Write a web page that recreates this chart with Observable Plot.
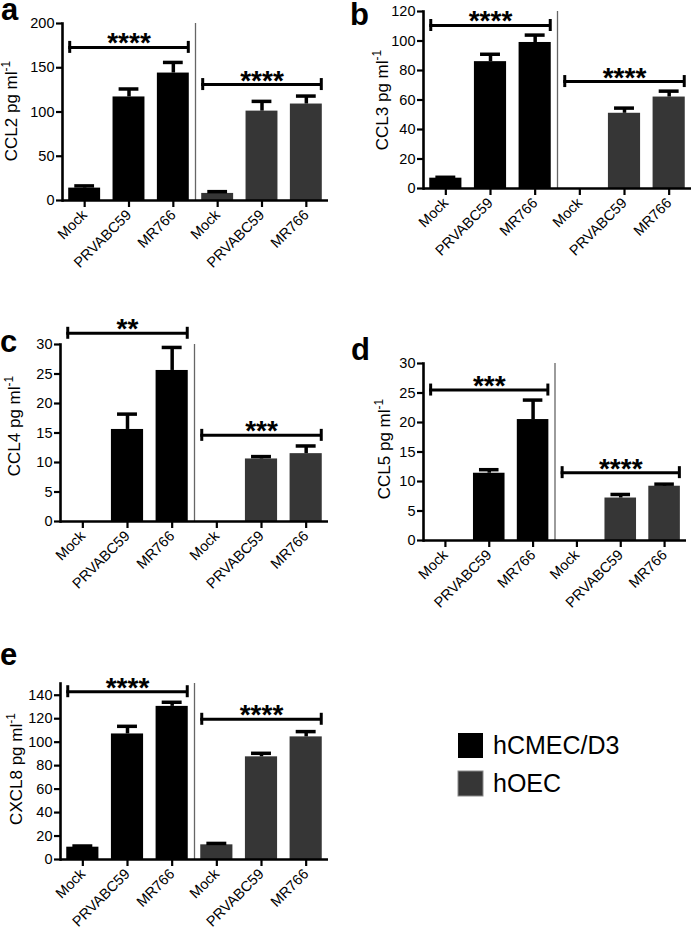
<!DOCTYPE html>
<html><head><meta charset="utf-8">
<script src="https://cdn.jsdelivr.net/npm/d3@7"></script>
<script src="https://cdn.jsdelivr.net/npm/@observablehq/plot@0.6"></script>
<style>
body{margin:0;background:#fff;}
#root{position:relative;width:692px;height:930px;overflow:hidden;font-family:"Liberation Sans",Arial,sans-serif;background:#fff;}
.panel{position:absolute;}
#overlay{position:absolute;left:0;top:0;pointer-events:none;}
#root svg g[aria-label="y-axis tick label"], #root svg g[aria-label="y-axis tick label"] text{font-size:14.5px !important;font-family:"Liberation Sans",Arial,sans-serif;}
#root svg g[aria-label="x-axis tick label"], #root svg g[aria-label="x-axis tick label"] text{font-size:14.5px !important;font-family:"Liberation Sans",Arial,sans-serif;}
</style></head><body><div id="root"></div>
<script>
// ---- data ----
const conditions = ["Mock", "PRVABC59", "MR766"];
const cellTypes = ["hCMEC/D3", "hOEC"];
const cellColors = ["#000000", "#363636"];

const ccl2Mean = [14, 117, 144, 8, 101, 109];
const ccl2Err  = [2.5, 9, 12, 2, 11, 9];
const ccl2Sig  = [173, 131];
const ccl2Stars = ["****", "****"];
const ccl2Ticks = [0, 50, 100, 150, 200];

const ccl3Mean = [7, 86, 99, 0, 51, 62];
const ccl3Err  = [0.6, 5, 5, 0, 3.5, 4];
const ccl3Sig  = [110.5, 72.5];
const ccl3Stars = ["****", "****"];
const ccl3Ticks = [0, 20, 40, 60, 80, 100, 120];

const ccl4Mean = [0, 15.6, 25.6, 0, 10.6, 11.5];
const ccl4Err  = [0, 2.6, 3.9, 0, 0.4, 1.3];
const ccl4Sig  = [31.9, 14.6];
const ccl4Stars = ["**", "***"];
const ccl4Ticks = [0, 5, 10, 15, 20, 25, 30];

const ccl5Mean = [0, 11.4, 20.5, 0, 7.2, 9.2];
const ccl5Err  = [0, 0.6, 3.3, 0, 0.6, 0.35];
const ccl5Sig  = [25.5, 11.5];
const ccl5Stars = ["***", "****"];
const ccl5Ticks = [0, 5, 10, 15, 20, 25, 30];

const cxcl8Mean = [10.5, 107, 130.5, 12.5, 87.5, 104.5];
const cxcl8Err  = [1, 6.5, 3.5, 1.2, 3, 4.5];
const cxcl8Sig  = [143, 119.5];
const cxcl8Stars = ["****", "****"];
const cxcl8Ticks = [0, 20, 40, 60, 80, 100, 120, 140];

const FONT = "'Liberation Sans', Arial, Helvetica, sans-serif";
const root = document.getElementById("root");

function panel(cfg) {
  const keys = [];
  cellTypes.forEach(ct => conditions.forEach(c => keys.push(ct + "|" + c)));
  const data = keys.map((k, i) => ({key: k, cell: k.split("|")[0], mean: cfg.mean[i], err: cfg.err[i]}));
  const errData = data.filter(d => d.err > 0);
  const plotW = cfg.width - cfg.mL - cfg.mR;
  const plotH = cfg.height - cfg.mT - cfg.mB;
  const step = plotW / 6;
  const bw = step * 0.72;
  const pxPerUnit = plotH / cfg.ymax;
  const capHalf = 6 / pxPerUnit;
  const sig = [
    {x1: keys[0], x2: keys[2], mid: keys[1], y: cfg.sig[0], label: cfg.stars[0]},
    {x1: keys[3], x2: keys[5], mid: keys[4], y: cfg.sig[1], label: cfg.stars[1]}
  ];
  const plot = Plot.plot({
    width: cfg.width, height: cfg.height,
    marginLeft: cfg.mL, marginRight: cfg.mR, marginTop: cfg.mT, marginBottom: cfg.mB,
    style: {fontFamily: FONT, fontSize: "14px", color: "#000", background: "transparent", overflow: "visible"},
    x: {domain: keys, paddingInner: 0.28, paddingOuter: 0.14, round: false, label: null},
    y: {domain: [0, cfg.ymax], label: null},
    color: {domain: cellTypes, range: cellColors},
    marks: [
      Plot.ruleX([keys[2]], {dx: step / 2, stroke: "#666", strokeWidth: 1.3}),
      Plot.barY(data, {x: "key", y: "mean", fill: "cell"}),
      Plot.ruleX(errData, {x: "key", y1: "mean", y2: d => d.mean + d.err, stroke: "#000", strokeWidth: 3.5}),
      Plot.tickY(errData, {x: "key", y: d => d.mean + d.err, stroke: "#000", strokeWidth: 3.5, insetLeft: bw * 0.19, insetRight: bw * 0.19}),
      Plot.ruleY(sig, {x1: "x1", x2: "x2", y: "y", stroke: "#000", strokeWidth: 3}),
      Plot.ruleX(sig, {x: "x1", y1: d => d.y - capHalf, y2: d => d.y + capHalf, dx: -bw / 2 + 1, stroke: "#000", strokeWidth: 3}),
      Plot.ruleX(sig, {x: "x2", y1: d => d.y - capHalf, y2: d => d.y + capHalf, dx: bw / 2 - 1, stroke: "#000", strokeWidth: 3}),
      Plot.text(sig, {x: "mid", y: "y", text: "label", dy: -4, fontSize: 28, fontWeight: "bold", fill: "#000"}),
      Plot.axisY({ticks: cfg.ticks, tickSize: 6, tickPadding: 2, fontSize: 14.5, strokeWidth: 2.2, tickFormat: d => String(d)}),
      Plot.axisX({tickFormat: d => d.split("|")[1], tickRotate: -45, tickSize: 7, tickPadding: 5, fontSize: 14.5, strokeWidth: 2.2}),
      Plot.frame({anchor: "left", stroke: "#000", strokeWidth: 2.6}),
      Plot.ruleY([0], {stroke: "#000", strokeWidth: 2.6})
    ]
  });
  const svg = d3.select(plot);
  const t = svg.append("text")
    .attr("transform", `translate(${cfg.labelX},${cfg.labelY}) rotate(-90)`)
    .attr("text-anchor", "middle")
    .attr("font-family", FONT)
    .attr("font-size", 17)
    .attr("fill", "#000");
  t.append("tspan").text(cfg.ylabel + " pg ml");
  t.append("tspan").attr("font-size", 12).attr("dy", -7).text("-1");
  plot.classList.add("panel");
  plot.style.left = cfg.left + "px";
  plot.style.top = cfg.top + "px";
  root.appendChild(plot);
}

panel({ylabel: "CCL2", mean: ccl2Mean, err: ccl2Err, sig: ccl2Sig, stars: ccl2Stars, ticks: ccl2Ticks, ymax: 200,
  left: 0, top: 0, width: 340, height: 300, mL: 62, mR: 12, mT: 23, mB: 100, labelX: 17, labelY: 111});
panel({ylabel: "CCL3", mean: ccl3Mean, err: ccl3Err, sig: ccl3Sig, stars: ccl3Stars, ticks: ccl3Ticks, ymax: 120,
  left: 346, top: 0, width: 346, height: 290, mL: 77, mR: 1, mT: 11, mB: 102, labelX: 42, labelY: 100});
panel({ylabel: "CCL4", mean: ccl4Mean, err: ccl4Err, sig: ccl4Sig, stars: ccl4Stars, ticks: ccl4Ticks, ymax: 30,
  left: 0, top: 300, width: 340, height: 320, mL: 60, mR: 12, mT: 44, mB: 99, labelX: 19.5, labelY: 126});
panel({ylabel: "CCL5", mean: ccl5Mean, err: ccl5Err, sig: ccl5Sig, stars: ccl5Stars, ticks: ccl5Ticks, ymax: 30,
  left: 346, top: 300, width: 346, height: 340, mL: 77, mR: 6, mT: 63, mB: 100, labelX: 44, labelY: 149});
panel({ylabel: "CXCL8", mean: cxcl8Mean, err: cxcl8Err, sig: cxcl8Sig, stars: cxcl8Stars, ticks: cxcl8Ticks, ymax: 150,
  left: 0, top: 610, width: 340, height: 320, mL: 60, mR: 12, mT: 73, mB: 71, labelX: 21.5, labelY: 159});

// overlay: panel letters and legend
const letters = [
  {t: "a", x: 1, y: 20}, {t: "b", x: 350, y: 25}, {t: "c", x: 0, y: 352},
  {t: "d", x: 351, y: 360}, {t: "e", x: 0, y: 665}
];
const ov = d3.select(root).append("svg").attr("id", "overlay").attr("width", 692).attr("height", 930);
ov.selectAll("text.letter").data(letters).join("text").attr("class", "letter")
  .attr("x", d => d.x).attr("y", d => d.y).attr("font-family", FONT)
  .attr("font-weight", "bold").attr("font-size", 31).attr("fill", "#000").text(d => d.t);
const legendRows = cellTypes.map((c, i) => ({label: c, color: cellColors[i], y: [733, 771][i]}));
const lg = ov.selectAll("g.leg").data(legendRows).join("g").attr("class", "leg");
lg.append("rect").attr("x", 458).attr("y", d => d.y).attr("width", 25).attr("height", 25)
  .attr("fill", d => d.color).attr("stroke", (d, i) => i ? "#8a8a8a" : "none").attr("stroke-width", 1);
lg.append("text").attr("x", 493).attr("y", d => d.y + 21).attr("font-family", FONT)
  .attr("font-size", 25).attr("fill", "#000").text(d => d.label);
</script></body></html>
